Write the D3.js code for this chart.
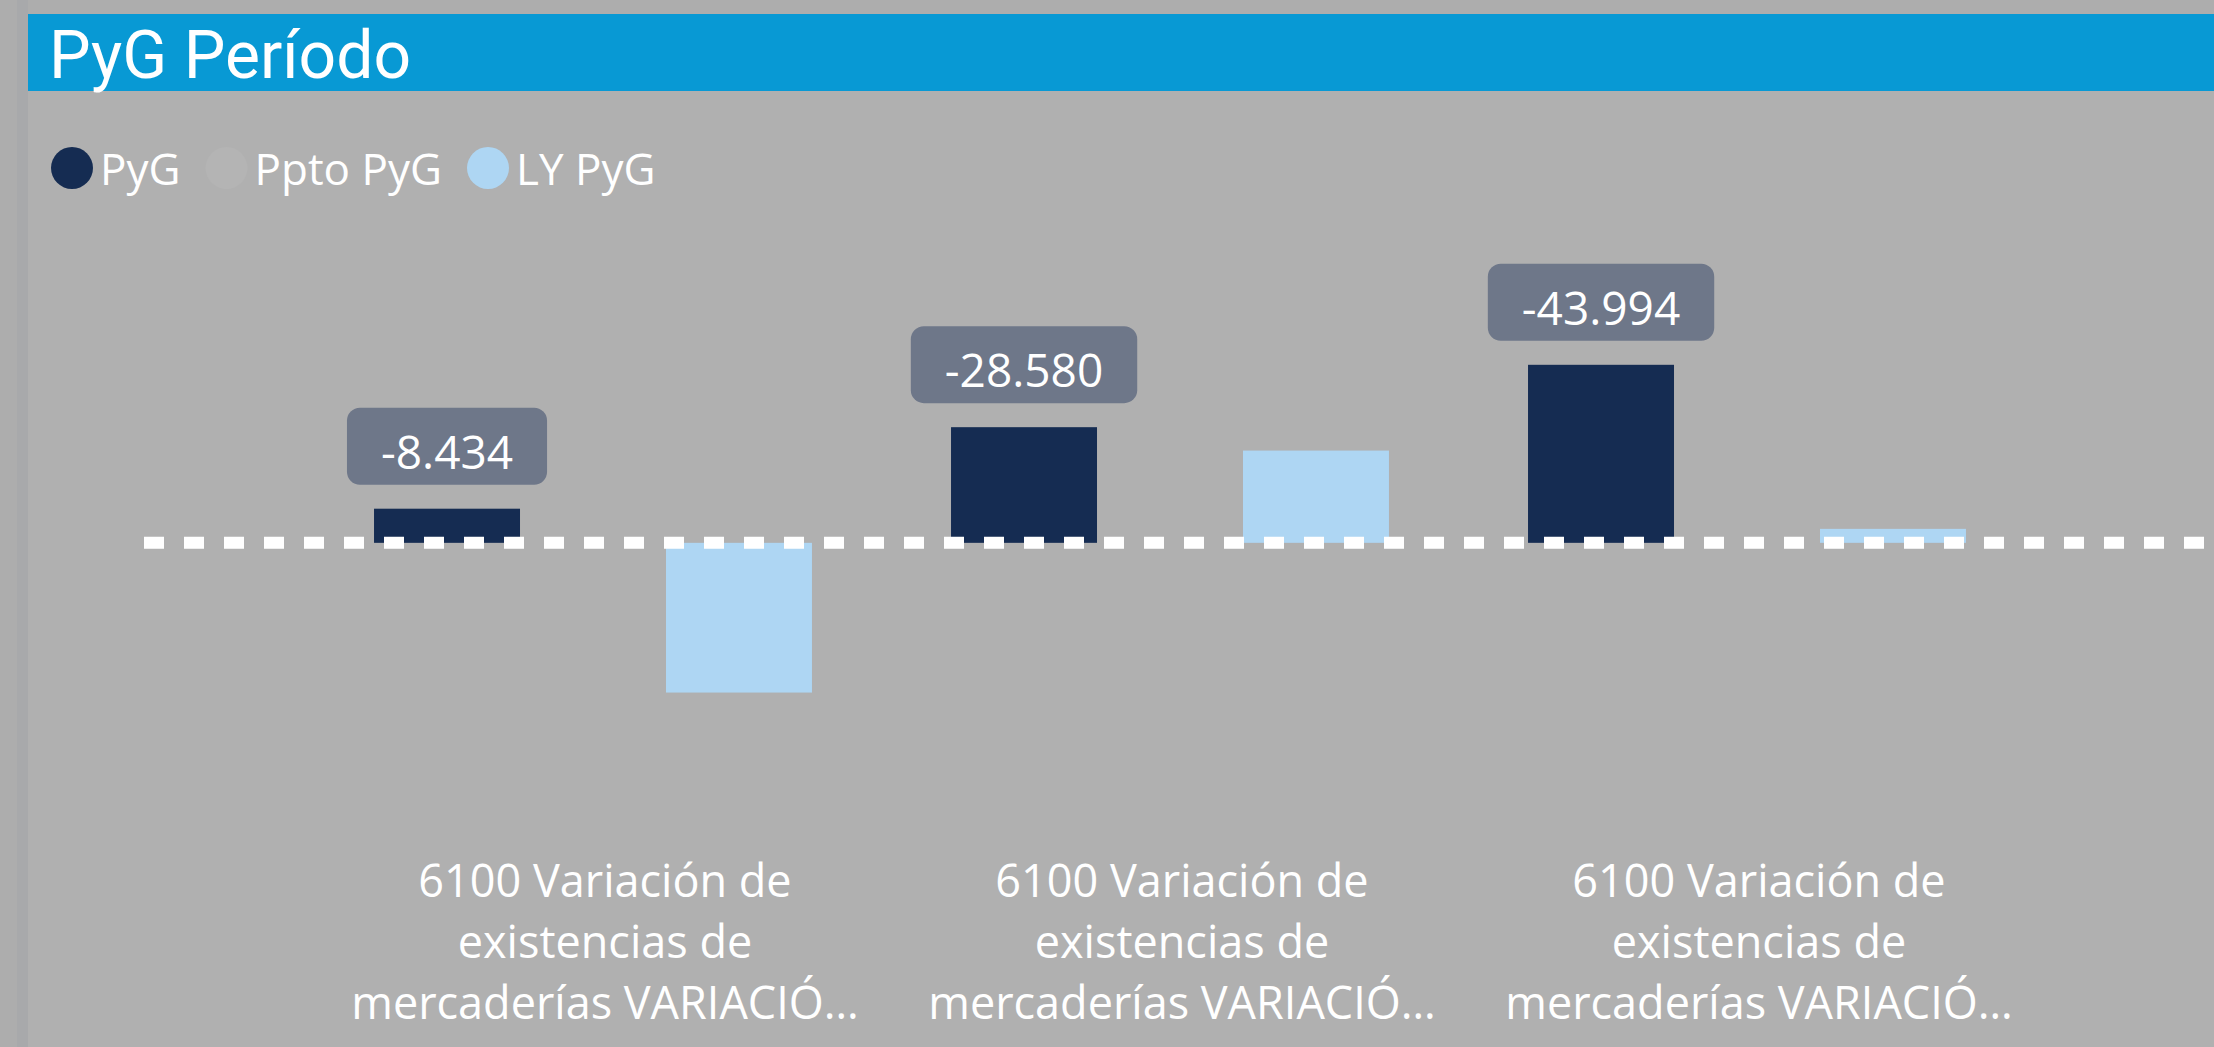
<!DOCTYPE html>
<html>
<head>
<meta charset="utf-8">
<script src="https://cdn.jsdelivr.net/npm/d3@7"></script>
<style>
  body { margin: 0; background: #adadad; overflow: hidden; }
  text { font-family: "Open Sans", "Noto Sans", sans-serif; fill: #fff; }
</style>
</head>
<body>
<div id="graph"></div>
<script>
var w = 2214, h = 1047

// data
var categories = ['c1', 'c2', 'c3']
var categoryLabels = [
  ['6100 Variación de', 'existencias de', 'mercaderías VARIACIÓ…'],
  ['6100 Variación de', 'existencias de', 'mercaderías VARIACIÓ…'],
  ['6100 Variación de', 'existencias de', 'mercaderías VARIACIÓ…']
]
var series = ['PyG', 'Ppto PyG', 'LY PyG']
var pygValues = [-8434, -28580, -43994]
var pptoValues = [0, 0, 0]
var lyValues = [37000, -22800, -3450]
var colours = ['#152c52', '#b4b4b4', '#aed6f3']

var valuesBySeries = [pygValues, pptoValues, lyValues]
var fmt = d3.formatLocale({ decimal: ',', thousands: '.', grouping: [3] }).format(',.0f')

var svg = d3.select('#graph')
  .html('')
  .append('svg')
  .attr('width', w)
  .attr('height', h)

// page frame
svg.append('rect').attr('x', 17).attr('y', 0).attr('width', 11).attr('height', h).attr('fill', '#a8a9ab')
svg.append('rect').attr('x', 28).attr('y', 14).attr('width', w - 28).attr('height', h - 14).attr('fill', '#b0b0b0')
svg.append('rect').attr('x', 28).attr('y', 14).attr('width', w - 28).attr('height', 77).attr('fill', '#0899d4')

svg.append('text')
  .attr('x', 49)
  .attr('y', 78)
  .style('font-family', 'Roboto, sans-serif')
  .style('font-size', '66px')
  .text('PyG Período')

// legend
var lx = 51
series.forEach(function(s, i) {
  svg.append('circle')
    .attr('cx', lx + 21).attr('cy', 168).attr('r', 21)
    .attr('fill', colours[i])
  var t = svg.append('text')
    .attr('x', lx + 49).attr('y', 185)
    .style('font-size', '44px')
    .text(s)
  lx = lx + 49 + t.node().getComputedTextLength() + 25
})

// scales (negative values go up)
var y = d3.scaleLinear()
  .domain([-50000, 40000])
  .range([340.5, 704.7])

var x = d3.scaleBand()
  .domain(categories)
  .range([304.5, 2035.5])
  .paddingInner(0.241)
  .paddingOuter(0.1205)

var xs = d3.scaleBand()
  .domain(series)
  .range([0, x.bandwidth()])

var rows = categories.map(function(c, i) {
  return { id: c, lines: categoryLabels[i], vals: series.map(function(s, j) { return { s: s, v: valuesBySeries[j][i], c: colours[j] } }) }
})

var groups = svg.append('g').selectAll('.grp')
  .data(rows)
  .enter()
  .append('g')
  .attr('class', 'grp')
  .attr('transform', function(d) { return 'translate(' + x(d.id) + ',0)' })

groups.selectAll('rect')
  .data(function(d) { return d.vals })
  .enter()
  .append('rect')
  .attr('x', function(d) { return xs(d.s) })
  .attr('width', xs.bandwidth())
  .attr('y', function(d) { return Math.min(y(d.v), y(0)) })
  .attr('height', function(d) { return Math.abs(y(d.v) - y(0)) })
  .attr('fill', function(d) { return d.c })

// zero line
svg.append('line')
  .attr('x1', 144).attr('x2', w)
  .attr('y1', y(0)).attr('y2', y(0))
  .attr('stroke', '#fff')
  .attr('stroke-width', 12)
  .attr('stroke-dasharray', '20 20')

// value badges on PyG
var badges = svg.append('g').selectAll('.badge')
  .data(rows)
  .enter()
  .append('g')
  .attr('class', 'badge')

badges.each(function(d) {
  var g = d3.select(this)
  var cx = x(d.id) + xs('PyG') + xs.bandwidth() / 2
  var bottom = y(d.vals[0].v) - 24
  var rect = g.append('rect')
  var t = g.append('text')
    .attr('x', cx)
    .attr('y', bottom - 16)
    .attr('text-anchor', 'middle')
    .style('font-size', '46px')
    .text(fmt(d.vals[0].v).replace('−', '-'))
  var tw = t.node().getComputedTextLength()
  rect.attr('x', cx - tw / 2 - 34)
    .attr('y', bottom - 77)
    .attr('width', tw + 68)
    .attr('height', 77)
    .attr('rx', 13)
    .attr('fill', '#6e7789')
})

// category labels
groups.append('text')
  .attr('text-anchor', 'middle')
  .style('font-size', '45px')
  .selectAll('tspan')
  .data(function(d) { return d.lines })
  .enter()
  .append('tspan')
  .attr('x', x.bandwidth() / 2 + 12)
  .attr('y', function(d, i) { return 897 + i * 61 })
  .text(function(d) { return d })
</script>
</body>
</html>
